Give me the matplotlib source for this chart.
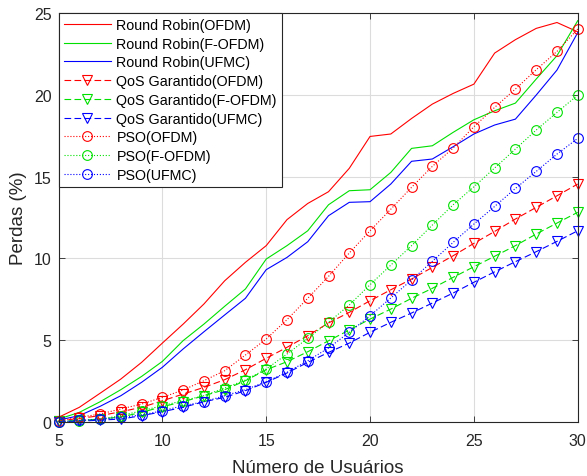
import matplotlib
matplotlib.use('Agg')
import matplotlib.pyplot as plt

plt.rcParams['font.family'] = ['Liberation Sans', 'DejaVu Sans']

usuarios = list(range(5, 31))

# Round Robin (linhas continuas)
rr_ofdm = [0.27, 0.88, 1.74, 2.61, 3.63, 4.81, 5.97, 7.2, 8.62, 9.75, 10.77, 12.36, 13.35,
           14.07, 15.5, 17.45, 17.6, 18.55, 19.43, 20.08, 20.65, 22.55, 23.37, 24.06, 24.42, 23.85]
rr_fofdm = [0.16, 0.57, 1.22, 1.96, 2.77, 3.69, 4.96, 5.97, 7.06, 8.12, 9.95, 10.77, 11.68,
            13.27, 14.13, 14.19, 15.25, 16.72, 16.88, 17.7, 18.47, 19.02, 19.49, 20.96, 22.39, 24.53]
rr_ufmc = [0.1, 0.37, 0.94, 1.59, 2.41, 3.33, 4.45, 5.5, 6.53, 7.55, 9.3, 10.05, 11.01,
           12.6, 13.42, 13.46, 14.54, 15.93, 16.07, 16.82, 17.6, 18.15, 18.51, 19.98, 21.51, 23.8]

# QoS Garantido (tracejadas)
qos_ofdm = [0.05, 0.2, 0.37, 0.61, 0.88, 1.28, 1.69, 2.1, 2.57, 3.18, 3.88, 4.55, 5.26,
            6.04, 6.69, 7.4, 8.07, 8.73, 9.44, 10.15, 10.91, 11.64, 12.4, 13.11, 13.82, 14.54]
qos_fofdm = [0.03, 0.08, 0.16, 0.29, 0.57, 0.92, 1.22, 1.59, 1.96, 2.51, 3.18, 3.67, 4.28,
             4.95, 5.61, 6.28, 6.89, 7.55, 8.16, 8.83, 9.48, 10.12, 10.77, 11.48, 12.15, 12.81]
qos_ufmc = [0.0, 0.03, 0.1, 0.16, 0.37, 0.61, 0.88, 1.22, 1.49, 1.9, 2.41, 2.98, 3.63,
            4.24, 4.81, 5.47, 6.08, 6.65, 7.26, 7.87, 8.53, 9.17, 9.79, 10.4, 11.03, 11.68]

# PSO (pontilhadas)
pso_ofdm = [0.05, 0.27, 0.47, 0.78, 1.08, 1.49, 1.94, 2.51, 3.12, 4.08, 5.06, 6.24, 7.55,
            8.89, 10.32, 11.68, 13.0, 14.34, 15.62, 16.74, 18.04, 19.23, 20.35, 21.53, 22.65, 24.02]
pso_fofdm = [0.0, 0.05, 0.16, 0.37, 0.67, 0.98, 1.29, 1.59, 2.06, 2.55, 3.22, 4.14, 5.1,
             6.08, 7.14, 8.38, 9.58, 10.77, 12.03, 13.27, 14.37, 15.52, 16.68, 17.84, 18.92, 19.98]
pso_ufmc = [0.0, 0.08, 0.15, 0.27, 0.41, 0.67, 0.98, 1.22, 1.59, 1.96, 2.45, 3.02, 3.73,
            4.51, 5.47, 6.48, 7.57, 8.67, 9.81, 10.97, 12.09, 13.17, 14.27, 15.31, 16.37, 17.33]

vermelho = '#ff0000'
verde = '#00e000'
azul = '#0000ff'

fig = plt.figure(figsize=(5.87, 4.77), dpi=100)
ax = fig.add_axes([0.0997, 0.1138, 0.8845, 0.8568])

lw = 0.8
ms = 7
mk = dict(ms=ms, mfc='none', mew=0.8, clip_on=False)
ax.plot(usuarios, rr_ofdm, '-', color=vermelho, lw=lw, label='Round Robin(OFDM)')
ax.plot(usuarios, rr_fofdm, '-', color=verde, lw=lw, label='Round Robin(F-OFDM)')
ax.plot(usuarios, rr_ufmc, '-', color=azul, lw=lw, label='Round Robin(UFMC)')
ax.plot(usuarios, qos_ofdm, '--v', color=vermelho, lw=lw, dashes=(6, 3),
        label='QoS Garantido(OFDM)', **mk)
ax.plot(usuarios, qos_fofdm, '--v', color=verde, lw=lw, dashes=(6, 3),
        label='QoS Garantido(F-OFDM)', **mk)
ax.plot(usuarios, qos_ufmc, '--v', color=azul, lw=lw, dashes=(6, 3),
        label='QoS Garantido(UFMC)', **mk)
ax.plot(usuarios, pso_ofdm, ':o', color=vermelho, lw=lw, label='PSO(OFDM)', **mk)
ax.plot(usuarios, pso_fofdm, ':o', color=verde, lw=lw, label='PSO(F-OFDM)', **mk)
ax.plot(usuarios, pso_ufmc, ':o', color=azul, lw=lw, label='PSO(UFMC)', **mk)

ax.set_xlim(5, 30)
ax.set_ylim(0, 25)
ax.set_xticks([5, 10, 15, 20, 25, 30])
ax.set_yticks([0, 5, 10, 15, 20, 25])
ax.grid(True, color='#dcdcdc', lw=0.8)
ax.set_axisbelow(True)
ax.tick_params(direction='in', top=True, right=True, labelsize=11.5, colors='#262626',
               length=4, width=0.6)
ax.tick_params(axis='x', pad=8)
ax.tick_params(axis='y', pad=5)
for s in ax.spines.values():
    s.set_color('#262626')
    s.set_linewidth(0.8)

ax.set_xlabel('Número de Usuários', fontsize=13.5, color='#262626', labelpad=8)
ax.set_ylabel('Perdas (%)', fontsize=13.5, color='#262626', labelpad=5)

leg = ax.legend(loc='upper left', fontsize=10.3, frameon=True, fancybox=False,
                edgecolor='#262626', framealpha=1, borderaxespad=0, handlelength=3.3,
                handletextpad=0.4, labelspacing=0.33, borderpad=0.35)
leg.get_frame().set_linewidth(0.8)
leg.set_zorder(5)

fig.savefig('out.png', dpi=100)
